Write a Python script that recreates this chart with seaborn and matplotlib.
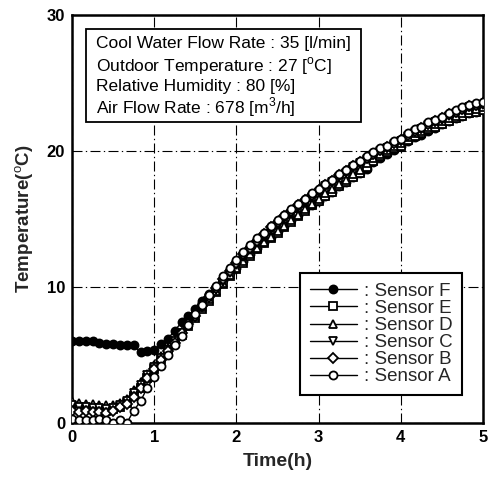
import numpy as np
import pandas as pd
import matplotlib
matplotlib.use("Agg")
import matplotlib.pyplot as plt
import seaborn as sns
from matplotlib.patches import Rectangle
from matplotlib.ticker import MultipleLocator

# ---- data (5-minute samples, 0..5 h) ----
time_h = [k / 12 for k in range(61)]

sensor_A = [0.3, 0.2, 0.2, 0.2, 0.3, 0.2, 0.0, 0.2, 0.0, 0.9, 1.6, 2.6, 3.4,
            4.2, 5.0, 5.7, 6.4, 7.2, 8.0, 8.7, 9.4, 10.1, 10.8, 11.4, 12.0,
            12.6, 13.1, 13.6, 14.0, 14.5, 14.9, 15.3, 15.7, 16.1, 16.5, 16.9, 17.2,
            17.6, 17.9, 18.3, 18.6, 19.0, 19.3, 19.6, 19.9, 20.2, 20.4, 20.7, 20.9,
            21.3, 21.6, 21.8, 22.1, 22.3, 22.5, 22.8, 23.0, 23.2, 23.4, 23.5, 23.6]
sensor_B = [0.9, 0.8, 0.9, 0.8, 0.8, 0.7, 0.9, 1.2, 1.4, 1.9, 2.6, 3.3, 4.0,
            4.6, 5.3, 5.9, 6.6, 7.3, 7.9, 8.6, 9.3, 9.9, 10.6, 11.2, 11.8,
            12.4, 12.9, 13.4, 13.9, 14.4, 14.8, 15.2, 15.6, 16.0, 16.4, 16.8, 17.1,
            17.5, 17.8, 18.2, 18.5, 18.9, 19.2, 19.5, 19.8, 20.1, 20.3, 20.6, 20.8,
            21.2, 21.5, 21.7, 22.0, 22.2, 22.4, 22.7, 22.9, 23.1, 23.3, 23.4, 23.5]
sensor_C = [1.3, 1.2, 1.2, 1.1, 1.1, 1.0, 1.1, 1.3, 1.6, 2.2, 2.8, 3.5, 4.1,
            4.8, 5.4, 6.0, 6.6, 7.2, 7.8, 8.5, 9.2, 9.8, 10.4, 11.0, 11.6,
            12.2, 12.7, 13.2, 13.7, 14.2, 14.6, 15.0, 15.4, 15.8, 16.2, 16.6, 17.0,
            17.4, 17.7, 18.1, 18.4, 18.8, 19.1, 19.4, 19.7, 20.0, 20.2, 20.5, 20.7,
            21.1, 21.4, 21.6, 21.9, 22.1, 22.3, 22.6, 22.8, 23.0, 23.2, 23.3, 23.4]
sensor_D = [1.6, 1.5, 1.4, 1.4, 1.3, 1.3, 1.3, 1.5, 1.8, 2.4, 3.0, 3.6, 4.3,
            4.9, 5.5, 6.1, 6.7, 7.3, 7.9, 8.5, 9.1, 9.7, 10.3, 10.9, 11.4,
            11.9, 12.4, 12.9, 13.3, 13.7, 14.1, 14.5, 14.9, 15.3, 15.7, 16.1, 16.5,
            16.9, 17.2, 17.6, 17.9, 18.3, 18.6, 19.1, 19.5, 19.8, 20.1, 20.4, 20.6,
            21.0, 21.3, 21.5, 21.8, 22.0, 22.2, 22.4, 22.6, 22.8, 23.0, 23.1, 23.2]
sensor_E = [1.2, 1.1, 1.1, 1.0, 1.0, 0.9, 1.0, 1.2, 1.5, 2.0, 2.6, 3.3, 4.0,
            4.7, 5.3, 5.9, 6.5, 7.1, 7.7, 8.4, 9.0, 9.6, 10.2, 10.8, 11.3,
            11.8, 12.3, 12.8, 13.2, 13.6, 14.0, 14.4, 14.8, 15.2, 15.6, 16.0, 16.3,
            16.7, 17.0, 17.4, 17.7, 18.1, 18.4, 18.8, 19.3, 19.6, 19.9, 20.2, 20.4,
            20.8, 21.1, 21.3, 21.6, 21.8, 22.0, 22.2, 22.4, 22.6, 22.8, 22.9, 23.0]
sensor_F = [6.0, 6.0, 6.0, 6.0, 5.9, 5.8, 5.8, 5.7, 5.7, 5.7, 5.2, 5.3, 5.4,
            5.8, 6.2, 6.8, 7.4, 7.9, 8.4, 9.0, 9.5, 10.0, 10.5, 11.0, 11.4,
            11.9, 12.4, 12.9, 13.3, 13.7, 14.1, 14.5, 14.9, 15.3, 15.7, 16.0, 16.3,
            16.7, 17.0, 17.4, 17.7, 18.1, 18.4, 18.7, 19.2, 19.5, 19.8, 20.1, 20.4,
            20.7, 21.0, 21.2, 21.5, 21.7, 22.0, 22.2, 22.4, 22.6, 22.8, 22.9, 23.0]

sensor_names = ["Sensor F", "Sensor E", "Sensor D", "Sensor C", "Sensor B", "Sensor A"]
sensor_values = [sensor_F, sensor_E, sensor_D, sensor_C, sensor_B, sensor_A]
sensor_markers = ["o", "s", "^", "v", "D", "o"]
sensor_faces = ["black", "white", "white", "white", "white", "white"]

info_lines = ["Cool Water Flow Rate : 35 [l/min]",
              r"Outdoor Temperature : 27 [$^{\mathrm{o}}$C]",
              "Relative Humidity : 80 [%]",
              r"Air Flow Rate : 678 [m$^{\mathrm{3}}$/h]"]

# ---- style ----
sns.set_theme(style="white")
plt.rcParams["font.family"] = ["Liberation Sans", "DejaVu Sans"]
plt.rcParams["mathtext.fontset"] = "custom"
plt.rcParams["mathtext.rm"] = "Liberation Sans"

fig = plt.figure(figsize=(4.88, 4.83), dpi=100)
ax = fig.add_axes([72 / 488, 60 / 483, 411 / 488, 408 / 483])

for i, (name, vals, mk, fc) in enumerate(zip(sensor_names, sensor_values, sensor_markers, sensor_faces)):
    df = pd.DataFrame({"t": time_h, "T": vals})
    ms = 5.0 if mk in ("D",) else 5.8
    sns.lineplot(data=df, x="t", y="T", ax=ax, color="black", linewidth=1.0,
                 marker=mk, markersize=ms, markerfacecolor=fc,
                 markeredgecolor="black", markeredgewidth=1.3,
                 label=": " + name, zorder=3 + i, legend=False)

ax.set_xlim(0, 5)
ax.set_ylim(0, 30)
ax.xaxis.set_major_locator(MultipleLocator(1))
ax.xaxis.set_minor_locator(MultipleLocator(0.2))
ax.yaxis.set_major_locator(MultipleLocator(10))
ax.yaxis.set_minor_locator(MultipleLocator(2))
ax.tick_params(axis="both", which="major", direction="in", length=7, width=1.3,
               colors="black", labelsize=12, pad=5)
ax.tick_params(axis="both", which="minor", direction="in", length=3.5, width=1.0,
               colors="black")
for lab in ax.get_xticklabels() + ax.get_yticklabels():
    lab.set_fontweight("bold")

ax.grid(True, which="major", color="black", linewidth=0.8,
        linestyle=(0, (9, 3, 1.2, 3)))
for sp in ax.spines.values():
    sp.set_visible(True)
    sp.set_color("black")
    sp.set_linewidth(1.8)

ax.set_xlabel("Time(h)", fontsize=14, fontweight="bold", labelpad=6)
ax.set_ylabel(r"Temperature($^{\mathrm{o}}$C)", fontsize=13.5, fontweight="bold", labelpad=8)

# info box
box = Rectangle((0.034, 0.738), 0.669, 0.228, transform=ax.transAxes,
                facecolor="white", edgecolor="black", linewidth=1.3, zorder=10)
ax.add_patch(box)
ys = [0.931, 0.875, 0.824, 0.775]
for y, txt in zip(ys, info_lines):
    ax.text(0.058, y, txt, transform=ax.transAxes, fontsize=12.5,
            va="center", ha="left", color="black", zorder=11)

leg = ax.legend(loc="lower right", bbox_to_anchor=(0.949, 0.069), fontsize=13.5,
                frameon=True, fancybox=False, edgecolor="black", framealpha=1,
                labelspacing=0.0, handlelength=2.5, handletextpad=0.4,
                borderpad=0.5, borderaxespad=0.0, numpoints=1)
leg.get_frame().set_linewidth(1.5)
leg.set_zorder(20)

fig.savefig("out.png", dpi=100)
